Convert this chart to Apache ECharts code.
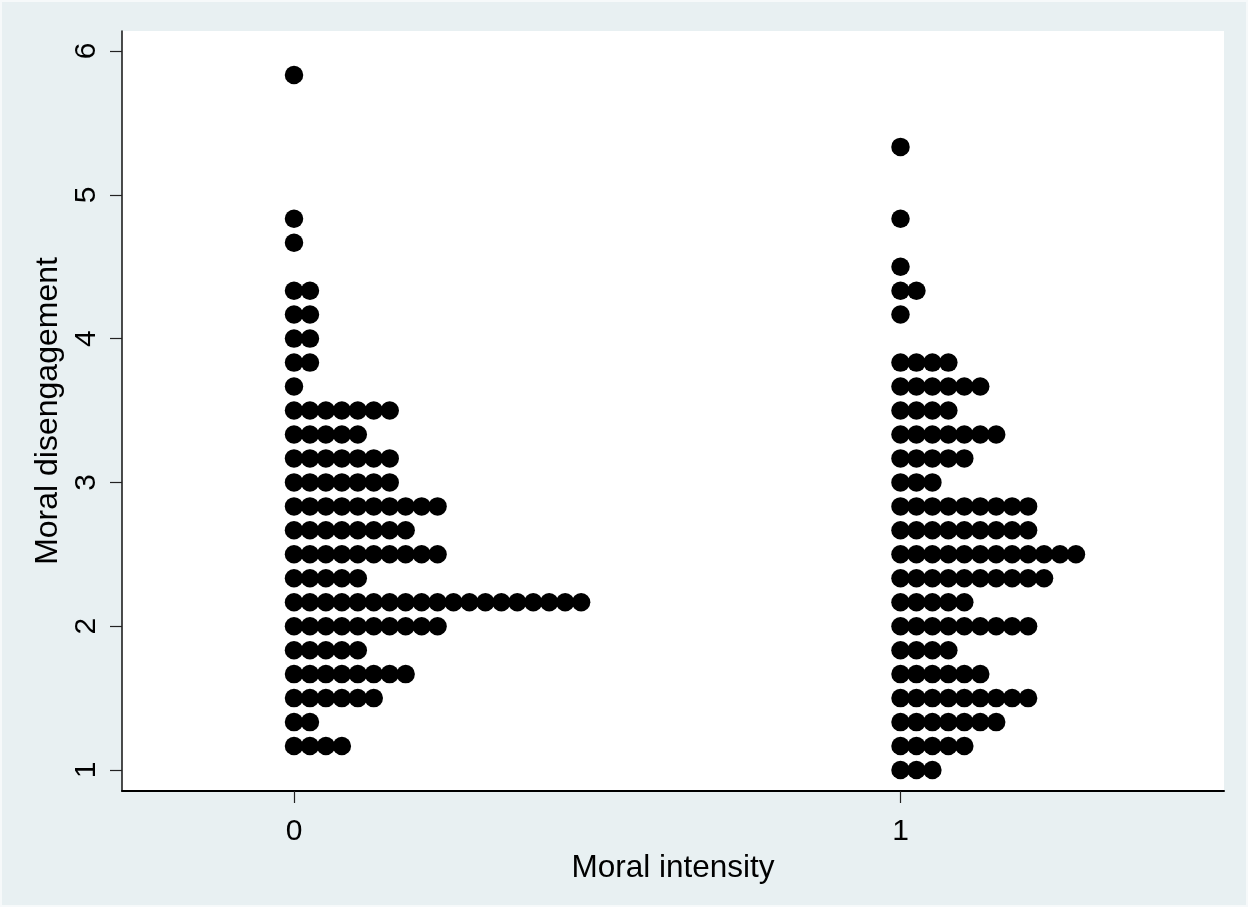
<!DOCTYPE html>
<html>
<head>
<meta charset="utf-8">
<script src="https://cdn.jsdelivr.net/npm/echarts@6/dist/echarts.min.js"></script>
<style>
html,body{margin:0;padding:0;background:#E8F0F2;}
#chart{width:1248px;height:907px;}
</style>
</head>
<body>
<div id="chart"></div>
<script>
// Moral intensity groups (x categories)
var groups = [0, 1];
// Moral disengagement levels and dot counts for group 0
var levels0 = [5.833, 4.833, 4.667, 4.333, 4.167, 4.0, 3.833, 3.667, 3.5, 3.333, 3.167, 3.0, 2.833, 2.667, 2.5, 2.333, 2.167, 2.0, 1.833, 1.667, 1.5, 1.333, 1.167];
var counts0 = [1, 1, 1, 2, 2, 2, 2, 1, 7, 5, 7, 7, 10, 8, 10, 5, 19, 10, 5, 8, 6, 2, 4];
// Moral disengagement levels and dot counts for group 1
var levels1 = [5.333, 4.833, 4.5, 4.333, 4.167, 3.833, 3.667, 3.5, 3.333, 3.167, 3.0, 2.833, 2.667, 2.5, 2.333, 2.167, 2.0, 1.833, 1.667, 1.5, 1.333, 1.167, 1.0];
var counts1 = [1, 1, 1, 2, 1, 4, 6, 4, 7, 5, 3, 9, 9, 12, 10, 5, 9, 4, 6, 9, 7, 5, 3];
// Tick labels
var xTicks = [0, 1];
var yTicks = [1, 2, 3, 4, 5, 6];

var dotStep = 0.0263; // horizontal stacking step in x units

function buildDots(group, levels, counts) {
  var pts = [];
  for (var k = 0; k < levels.length; k++) {
    for (var i = 0; i < counts[k]; i++) {
      pts.push([group + i * dotStep, levels[k]]);
    }
  }
  return pts;
}
var data = buildDots(groups[0], levels0, counts0).concat(buildDots(groups[1], levels1, counts1));

var font = 'Liberation Sans, Arial, sans-serif';
var chart = echarts.init(document.getElementById('chart'), null, {renderer: 'canvas'});
chart.setOption({
  backgroundColor: '#E8F0F2',
  animation: false,
  graphic: [{
    type: 'rect', z: 100, silent: true,
    shape: {x: 0, y: 0, width: 1248, height: 907},
    style: {fill: 'none', stroke: '#F6F9FA', lineWidth: 4}
  }],
  grid: {
    left: 122, right: 24, top: 31, bottom: 116,
    show: true, backgroundColor: '#ffffff', borderWidth: 0
  },
  xAxis: {
    type: 'value',
    min: -0.2836, max: 1.5334,
    name: 'Moral intensity',
    nameLocation: 'middle',
    nameGap: 53,
    nameTextStyle: {fontFamily: font, fontSize: 31.5, color: '#000'},
    axisLine: {show: true, onZero: false, lineStyle: {color: '#000', width: 2}},
    axisTick: {show: true, length: 12, lineStyle: {color: '#222', width: 1.2}, customValues: xTicks},
    axisLabel: {fontFamily: font, fontSize: 30, color: '#000', margin: 26, customValues: xTicks, formatter: function(v){return String(v);}},
    splitLine: {show: false}
  },
  yAxis: {
    type: 'value',
    min: 0.854, max: 6.139,
    name: 'Moral disengagement',
    nameLocation: 'middle',
    nameGap: 57,
    nameTextStyle: {fontFamily: font, fontSize: 32, color: '#000'},
    axisLine: {show: true, onZero: false, lineStyle: {color: '#111', width: 1.5}},
    axisTick: {show: true, length: 12, lineStyle: {color: '#222', width: 1.2}, customValues: yTicks},
    axisLabel: {fontFamily: font, fontSize: 30, color: '#000', rotate: 90, margin: 20, customValues: yTicks, formatter: function(v){return String(v);}},
    splitLine: {show: false}
  },
  series: [{
    type: 'scatter',
    data: data,
    symbol: 'circle',
    symbolSize: 18.5,
    itemStyle: {color: '#000', opacity: 1},
    silent: true
  }]
});
</script>
</body>
</html>
